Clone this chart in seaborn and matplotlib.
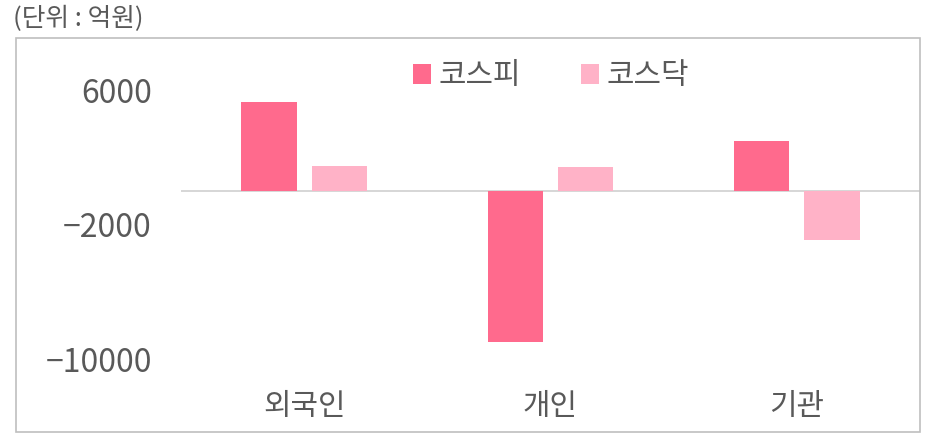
import matplotlib
matplotlib.use("Agg")
import matplotlib.pyplot as plt
import seaborn as sns
import pandas as pd
from matplotlib.patches import Rectangle

categories = ["외국인", "개인", "기관"]
series_names = ["코스피", "코스닥"]
kospi = [5300, -9000, 3000]
kosdaq = [1500, 1450, -2900]
yticks = [6000, -2000, -10000]

df = pd.DataFrame({
    "구분": categories * 2,
    "시장": [series_names[0]] * 3 + [series_names[1]] * 3,
    "값": kospi + kosdaq,
})

sns.set_theme(style="white")
plt.rcParams['font.family'] = ['Noto Sans CJK KR', 'DejaVu Sans']

fig = plt.figure(figsize=(9.31, 4.43), dpi=100)
ax = fig.add_axes([181/931, 1 - 359/443, (920-181)/931, (359-90.6)/443])

palette = {"코스피": "#FF6A8D", "코스닥": "#FFB2C7"}
sns.barplot(data=df, x="구분", y="값", hue="시장", palette=palette,
            width=0.57, gap=0.21, ax=ax, saturation=1, linewidth=0,
            order=categories, hue_order=series_names)

ax.set_xlim(-0.5, 2.5)
ax.set_ylim(-10000, 6000)
ax.set_yticks(yticks)
ax.set_yticklabels(["6000", "\u22122000", "\u221210000"])
ax.axhline(0, color="#D0D0D0", lw=1.2, zorder=0.5)
for s in ax.spines.values():
    s.set_visible(False)
ax.set_xlabel("")
ax.set_ylabel("")
ax.tick_params(axis="y", length=0, pad=21, labelsize=23, labelcolor="#595959")
ax.tick_params(axis="x", length=0, pad=23, labelsize=21.5, labelcolor="#595959")
ax.grid(False)

ax.legend(loc="center", bbox_to_anchor=(551/931, (443 - 76) / 443), bbox_transform=fig.transFigure,
          ncol=2, frameon=False, fontsize=21.5, handlelength=0.62, handleheight=0.62,
          handletextpad=0.25, columnspacing=2.0, labelcolor="#595959")

fig.patches.append(Rectangle((16/931, 1 - 432/443), (920-16)/931, (432-38)/443,
                             transform=fig.transFigure, fill=False,
                             edgecolor="#BFBFBF", lw=1.2))
fig.text(13/931, 1 - 19/443, "(단위 : 억원)", fontsize=18.5, color="#595959",
         va="center", ha="left")

fig.savefig("out.png", dpi=100)
